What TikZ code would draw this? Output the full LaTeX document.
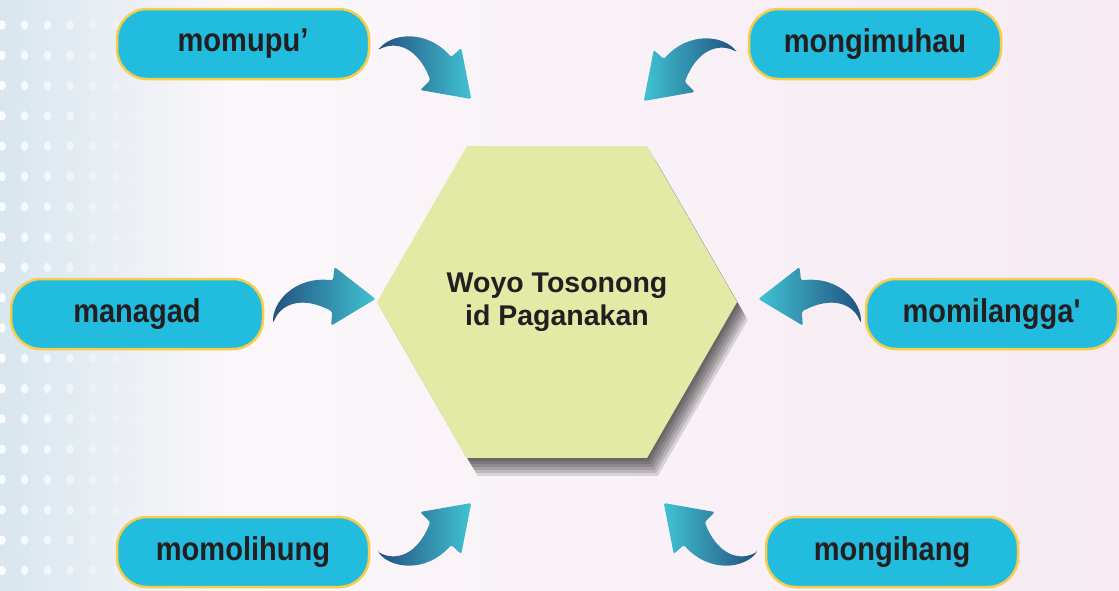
\documentclass[tikz,border=0pt]{standalone}
\usepackage{fontspec}
\setmainfont{Liberation Sans}
\newfontfamily\pillfont[FakeStretch=0.88]{Liberation Sans}
\usetikzlibrary{shapes.geometric, shadows, positioning}

\definecolor{pillblue}{HTML}{22BCDF}
\definecolor{pillgold}{HTML}{F8CD4A}
\definecolor{hexgreen}{HTML}{E3EAA6}
\definecolor{inkdark}{HTML}{231F20}
\definecolor{arrowdeep}{HTML}{23507F}
\definecolor{arrowlight}{HTML}{40C3D3}
\definecolor{bgblue}{HTML}{D8E6EE}
\definecolor{bgwhite}{HTML}{FCFAFC}
\definecolor{bgpink}{HTML}{F6EBF3}

\begin{document}
\begin{tikzpicture}[x=1pt, y=-1pt,
    pill/.style={rectangle, rounded corners=30pt, fill=pillblue, draw=pillgold,
        line width=2.5pt, minimum width=252pt, minimum height=70pt, text=inkdark,
        font=\pillfont\bfseries\fontsize{33}{38}\selectfont},
    hexshadow/.style={general shadow={shadow xshift=#1*0.6pt, shadow yshift=-#1pt,
        fill=black, opacity=0.13}},
    hexa/.style={regular polygon, regular polygon sides=6, minimum size=336pt,
        inner sep=0pt, fill=hexgreen, align=center, text=inkdark,
        font=\bfseries\fontsize{28.5}{33}\selectfont},
    towardright/.style={left color=arrowdeep, right color=arrowlight},
    towardleft/.style={left color=arrowlight, right color=arrowdeep},
    pics/bend arrow/.style={code={
        \shade[#1, rounded corners=1.5pt]
            (0,0) .. controls (12,-16) and (47,-22) .. (73,7) -- (83,-2) -- (93,49)
            -- (42,40) -- (52,30) .. controls (40,-2) and (18,-10) .. (0,0) -- cycle;
    }}]
        \useasboundingbox (0,0) rectangle (1119,590);
        \fill[left color=bgwhite, right color=bgpink] (0,0) rectangle (1119,590);
        \fill[left color=bgblue, right color=bgwhite!80!bgpink] (0,0) rectangle (230,590);

        % dots on the left
        \foreach \c [evaluate=\c as \dotop using 0.9-0.13*\c] in {0,...,6}
        {
            \foreach \r in {0,...,18}
                \fill[white, opacity=\dotop] ({2+22.7*\c},{25+30.3*\r}) ellipse (3.8 and 4.8);
        };

        \node[hexa, hexshadow=3, hexshadow=6, hexshadow=9, hexshadow=12,
            hexshadow=15, hexshadow=18] (hub) at (557,302) {Woyo Tosonong\\id Paganakan};

        \foreach \nm/\px/\py/\tx in
        {pMomupu/243/44/{momupu’},
            pMongimuhau/875/44/mongimuhau,
            pManagad/137/314/managad,
            pMomilangga/992/314/{momilangga\textquotesingle},
            pMomolihung/243/552/momolihung,
            pMongihang/892/552/mongihang
        }
        {
            \node[pill] (\nm) at (\px,\py) {\tx};
        };

        \pic at ([shift={(8,6)}]pMomupu.east) {bend arrow=towardright};
        \pic[xscale=-1] at ([shift={(-11,8)}]pMongimuhau.west) {bend arrow=towardleft};
        \pic[rotate=41] at ([shift={(9,9)}]pManagad.east) {bend arrow=towardright};
        \pic[xscale=-1, rotate=41] at ([shift={(-4,9)}]pMomilangga.west) {bend arrow=towardleft};
        \pic[yscale=-1] at ([shift={(8,0)}]pMomolihung.east) {bend arrow=towardright};
        \pic[xscale=-1, yscale=-1] at ([shift={(-8,0)}]pMongihang.west) {bend arrow=towardleft};

        \end{tikzpicture}
\end{document}
